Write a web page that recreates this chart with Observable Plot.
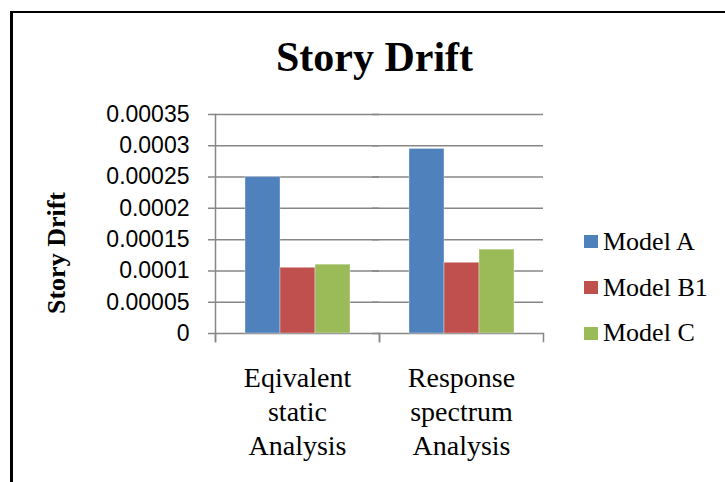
<!DOCTYPE html>
<html>
<head>
<meta charset="utf-8">
<script src="https://cdn.jsdelivr.net/npm/d3@7"></script>
<script src="https://cdn.jsdelivr.net/npm/@observablehq/plot@0.6"></script>
<style>
  html, body { margin: 0; padding: 0; background: #fff; }
  #wrap { position: relative; width: 725px; height: 482px; overflow: hidden; background: #fff; }
  #border { position: absolute; left: 10px; top: 11px; width: 800px; height: 600px;
            border-left: 3px solid #000; border-top: 2px solid #000; }
  #title { position: absolute; left: 0; width: 749px; top: 36px; text-align: center;
           font: bold 42px "Liberation Serif", "Times New Roman", serif; line-height: 42px; color: #000; }
  #ylabel { position: absolute; width: 240px; left: -63px; top: 240px; text-align: center;
            font: bold 26px "Liberation Serif", "Times New Roman", serif; line-height: 26px;
            transform: rotate(-90deg); transform-origin: 50% 50%; color: #000; }
  #chart { position: absolute; left: 0; top: 0; }
  .leg { position: absolute; left: 584px; height: 26px; display: flex; align-items: center;
         font: 26px "Liberation Serif", "Times New Roman", serif; line-height: 26px; color: #000; white-space: nowrap; }
  .leg .sw { width: 14px; height: 13px; margin-right: 5px; }
</style>
</head>
<body>
<div id="wrap">
  <div id="border"></div>
  <div id="title">Story Drift</div>
  <div id="ylabel">Story Drift</div>
  <div id="chart"></div>
</div>
<script>
// ---- data ----
const categories = ["Eqivalent static Analysis", "Response spectrum Analysis"];
const categoryLabels = ["Eqivalent\nstatic\nAnalysis", "Response\nspectrum\nAnalysis"];
const models = ["Model A", "Model B1", "Model C"];
const modelA  = [0.00025, 0.000295];
const modelB1 = [0.000105, 0.000113];
const modelC  = [0.00011, 0.000134];
const yTicks = [0, 0.00005, 0.0001, 0.00015, 0.0002, 0.00025, 0.0003, 0.00035];
const yTickLabels = ["0", "0.00005", "0.0001", "0.00015", "0.0002", "0.00025", "0.0003", "0.00035"];
const colors = ["#4F81BD", "#C0504D", "#9BBB59"];

// ---- table built from the arrays ----
const series = [modelA, modelB1, modelC];
const rows = [];
categories.forEach((c, i) => models.forEach((m, j) => rows.push({category: c, model: m, value: series[j][i]})));

const W = 725, H = 482;
const mL = 214, mR = 182, mT = 114, mB = 149;
const plotH = H - mT - mB;
const gray = "#878787";

const chart = Plot.plot({
  width: W, height: H,
  marginLeft: mL, marginRight: mR, marginTop: mT, marginBottom: mB,
  style: {background: "transparent", overflow: "visible"},
  fx: {domain: categories, padding: 0, label: null},
  x: {domain: models, paddingInner: 0, paddingOuter: 0.78, axis: null},
  y: {domain: [0, 0.00035], axis: null},
  color: {domain: models, range: colors},
  marks: [
    Plot.gridY(yTicks, {stroke: gray, strokeOpacity: 1, strokeWidth: 1.5, insetLeft: -7}),
    Plot.axisY(yTicks, {
      anchor: "left", tickSize: 0, tickPadding: 26,
      tickFormat: d => yTickLabels[yTicks.indexOf(d)],
      fontSize: 23, fontFamily: "'Liberation Sans', Arial, sans-serif", fill: "#000", label: null
    }),
    Plot.barY(rows, {fx: "category", x: "model", y: "value", fill: "model",
                     stroke: "#fff", strokeOpacity: 0.35, strokeWidth: 1}),
    Plot.frame({anchor: "left", insetTop: plotH, insetBottom: -8, stroke: gray, strokeWidth: 1.5}),
    Plot.frame({anchor: "right", insetTop: plotH, insetBottom: -8, stroke: gray, strokeWidth: 1.5}),
    Plot.frame({anchor: "left", insetBottom: -8, stroke: gray, strokeWidth: 1.5, facetAnchor: "left"}),
    Plot.axisFx({
      anchor: "bottom", tickSize: 0, tickPadding: 29,
      tickFormat: d => categoryLabels[categories.indexOf(d)],
      fontSize: 28, fontFamily: "'Liberation Serif', 'Times New Roman', serif",
      lineHeight: 1.22, fill: "#000", label: null
    })
  ]
});
document.getElementById("chart").appendChild(chart);

// ---- legend ----
const legendCenters = [241.5, 287.5, 333];
const wrap = document.getElementById("wrap");
models.forEach((m, i) => {
  const item = document.createElement("div");
  item.className = "leg";
  item.style.top = (legendCenters[i] - 13) + "px";
  const sw = document.createElement("span");
  sw.className = "sw";
  sw.style.background = colors[i];
  item.appendChild(sw);
  item.appendChild(document.createTextNode(m));
  wrap.appendChild(item);
});
</script>
</body>
</html>
